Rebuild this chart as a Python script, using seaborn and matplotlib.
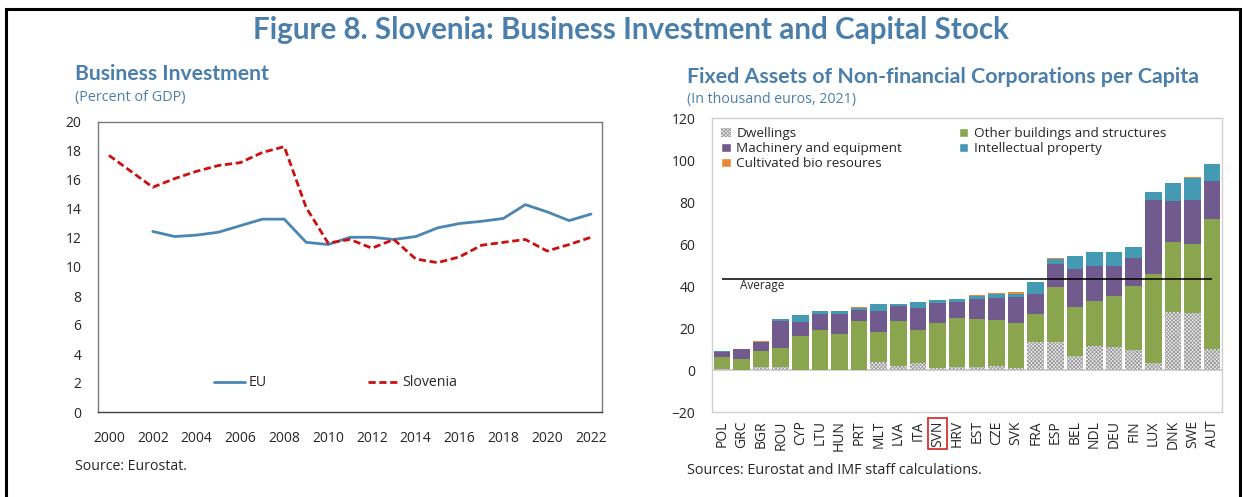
import matplotlib
matplotlib.use("Agg")
import numpy as np
import pandas as pd
import matplotlib.pyplot as plt
from matplotlib.patches import Rectangle, Patch
from matplotlib.lines import Line2D
import seaborn as sns

# ---- data: business investment (percent of GDP)
years = list(range(2000, 2023))
slovenia = [17.7, 16.6, 15.5, 16.1, 16.6, 17.0, 17.2, 17.9, 18.3, 14.1, 11.65, 11.9,
            11.3, 11.9, 10.55, 10.3, 10.7, 11.5, 11.7, 11.9, 11.1, 11.55, 12.05]
eu_years = list(range(2002, 2023))
eu = [12.45, 12.1, 12.2, 12.4, 12.85, 13.3, 13.3, 11.7, 11.55, 12.05, 12.05, 11.9,
      12.1, 12.7, 13.0, 13.15, 13.35, 14.3, 13.8, 13.2, 13.65]

# ---- data: fixed assets per capita (thousand euros, 2021)
countries = ["POL", "GRC", "BGR", "ROU", "CYP", "LTU", "HUN", "PRT", "MLT", "LVA", "ITA",
             "SVN", "HRV", "EST", "CZE", "SVK", "FRA", "ESP", "BEL", "NDL", "DEU", "FIN",
             "LUX", "DNK", "SWE", "AUT"]
dwellings = [0.4, 0.1, 1.4, 1.2, 0.0, 0.0, 0.0, 0.0, 3.7, 1.9, 3.2, 0.8, 1.3, 1.6, 2.1,
             1.0, 13.1, 13.4, 6.7, 11.2, 10.9, 9.4, 3.2, 27.5, 27.2, 10.1]
other_buildings = [6.0, 5.2, 7.7, 9.2, 16.3, 18.9, 17.1, 23.2, 14.4, 21.5, 15.8, 21.8, 23.7,
                   22.9, 21.7, 21.2, 13.8, 26.0, 23.2, 21.8, 24.3, 30.4, 42.4, 33.5, 33.0, 61.6]
machinery = [2.1, 4.5, 4.0, 13.0, 6.7, 7.7, 9.5, 5.3, 10.2, 7.3, 10.6, 9.1, 7.2, 9.3, 10.3,
             12.5, 9.4, 11.3, 18.1, 16.6, 14.4, 13.5, 35.2, 19.6, 20.9, 18.5]
intellectual = [0.5, 0.3, 0.4, 0.7, 3.4, 1.4, 1.7, 1.0, 2.9, 0.5, 2.9, 1.6, 1.5, 1.6, 2.2,
                1.6, 5.5, 2.2, 6.2, 6.5, 6.5, 5.1, 4.0, 8.4, 10.4, 7.9]
bio = [0.1, 0.1, 0.2, 0.2, 0.0, 0.3, 0.0, 0.4, 0.1, 0.2, 0.1, 0.2, 0.2, 0.3, 0.3, 1.0, 0.3,
       0.5, 0.3, 0.3, 0.3, 0.2, 0.0, 0.1, 0.5, 0.2]
average = 43.2

BLUE_T = "#4a7fab"
C_EU = "#4a86b4"
C_SVN = "#cc1010"
C_GREEN = "#89a54e"
C_PURPLE = "#715a8d"
C_TEAL = "#4499b3"
C_ORANGE = "#e8893a"
C_DWELL = "#ececec"

sns.set_style("white")
plt.rcParams["font.family"] = ["Open Sans", "DejaVu Sans"]
plt.rcParams["hatch.color"] = "#8f8f8f"
plt.rcParams["hatch.linewidth"] = 0.5

fig = plt.figure(figsize=(12.43, 4.97), dpi=100)

# frame around the whole figure
fig.add_artist(Rectangle((6 / 1243, -0.2), 1234 / 1243, 1.2 - 9 / 497, transform=fig.transFigure,
                         fill=False, edgecolor="black", linewidth=2.2))

fig.text(631 / 1243, 1 - 30 / 497, "Figure 8. Slovenia: Business Investment and Capital Stock",
         ha="center", va="center", fontsize=21.3, fontweight="bold", color=BLUE_T, family="Lato")
fig.text(75 / 1243, 1 - 74 / 497, "Business Investment", ha="left", va="center",
         fontsize=15.2, fontweight="bold", color=BLUE_T, family="Lato")
fig.text(75 / 1243, 1 - 98 / 497, "(Percent of GDP)", ha="left", va="center",
         fontsize=10.4, color=BLUE_T)
fig.text(687 / 1243, 1 - 77 / 497, "Fixed Assets of Non-financial Corporations per Capita",
         ha="left", va="center", fontsize=15.4, fontweight="bold", color=BLUE_T, family="Lato")
fig.text(687 / 1243, 1 - 100 / 497, "(In thousand euros, 2021)", ha="left", va="center",
         fontsize=10.2, color=BLUE_T)
fig.text(75 / 1243, 1 - 467 / 497, "Source: Eurostat.", ha="left", va="center", fontsize=10.2)
fig.text(687 / 1243, 1 - 470 / 497, "Sources: Eurostat and IMF staff calculations.",
         ha="left", va="center", fontsize=10.4)

# ---- left panel: lines
ax1 = fig.add_axes([98 / 1243, 85 / 497, 504 / 1243, 290 / 497])
sns.lineplot(x=eu_years, y=eu, ax=ax1, color=C_EU, linewidth=2.0, label="EU")
sns.lineplot(x=years, y=slovenia, ax=ax1, color=C_SVN, linewidth=2.0, label="Slovenia")
ax1.lines[1].set_linestyle((0, (2.6, 1.3)))
ax1.set_xlim(1999.5, 2022.5)
ax1.set_ylim(0, 20)
ax1.set_yticks(range(0, 21, 2))
ax1.set_xticks(range(2000, 2023, 2))
ax1.set_xticks(np.arange(1999.5, 2023, 1), minor=True)
ax1.tick_params(axis="x", which="major", length=0, pad=14, labelsize=10)
ax1.tick_params(axis="x", which="minor", length=5, direction="in", color="#595959")
ax1.tick_params(axis="y", length=0, pad=12, labelsize=10)
for s in ax1.spines.values():
    s.set_color("#7a7a7a")
    s.set_linewidth(1.0)
ax1.spines["bottom"].set_color("#404040")
ax1.set_xlabel("")
ax1.set_ylabel("")
leg_handles = [Line2D([], [], color=C_EU, lw=2.0),
               Line2D([], [], color=C_SVN, lw=2.0, linestyle=(0, (2.6, 1.3)))]
ax1.legend(leg_handles, ["EU", "Slovenia"], ncol=2, frameon=False, loc="center",
           bbox_to_anchor=(0.472, 0.1), columnspacing=7.2, handlelength=2.2, handletextpad=0.2,
           fontsize=10.2)

# ---- right panel: stacked bars (drawn as overlaid cumulative totals)
ax2 = fig.add_axes([712 / 1243, 85 / 497, 510 / 1243, 294 / 497])
layers = [dwellings, other_buildings, machinery, intellectual, bio]
colors = [C_DWELL, C_GREEN, C_PURPLE, C_TEAL, C_ORANGE]
cum = np.cumsum(np.array(layers), axis=0)
for i in range(len(layers) - 1, -1, -1):
    kw = dict(hatch="xxxxxxxxx", edgecolor="#8f8f8f", linewidth=0) if i == 0 else dict(edgecolor="none", linewidth=0)
    sns.barplot(x=countries, y=cum[i], order=countries, ax=ax2, color=colors[i],
                saturation=1, width=0.84, **kw)
ax2.axhline(0, color="#c8c8c8", linewidth=1.2, zorder=0.5)
ax2.hlines(average, 0, len(countries) - 1, color="black", linewidth=1.1)
ax2.text(0.95, average - 3.2, "Average", fontsize=8.5, ha="left", va="center")
ax2.set_xlim(-0.5, len(countries) - 0.5)
ax2.set_ylim(-20, 120)
ax2.set_yticks(range(-20, 121, 20))
ax2.tick_params(axis="y", length=4, direction="in", color="#c8c8c8", pad=12, labelsize=10)
ax2.tick_params(axis="x", length=0, pad=6, labelsize=10, rotation=90)
for s in ax2.spines.values():
    s.set_color("#d0d0d0")
    s.set_linewidth(1.0)
ax2.set_xlabel("")
ax2.set_ylabel("")
for lab in ax2.get_xticklabels():
    if lab.get_text() == "SVN":
        lab.set_bbox(dict(facecolor="none", edgecolor="#d42020", linewidth=1.2, pad=1.5))

handles = [Patch(facecolor=C_DWELL, edgecolor="#8f8f8f", hatch="xxxxxxxxx", linewidth=0),
           Patch(facecolor=C_PURPLE), Patch(facecolor=C_ORANGE),
           Patch(facecolor=C_GREEN), Patch(facecolor=C_TEAL)]
labels = ["Dwellings", "Machinery and equipment", "Cultivated bio resoures",
          "Other buildings and structures", "Intellectual property"]
ax2.legend(handles, labels, ncol=2, frameon=False, loc="upper left", bbox_to_anchor=(0.0, 1.0),
           fontsize=9.7, handlelength=0.7, handleheight=0.7, handletextpad=0.4,
           columnspacing=4.2, labelspacing=0.15, borderaxespad=0.3)

fig.savefig("out.png", dpi=100)
